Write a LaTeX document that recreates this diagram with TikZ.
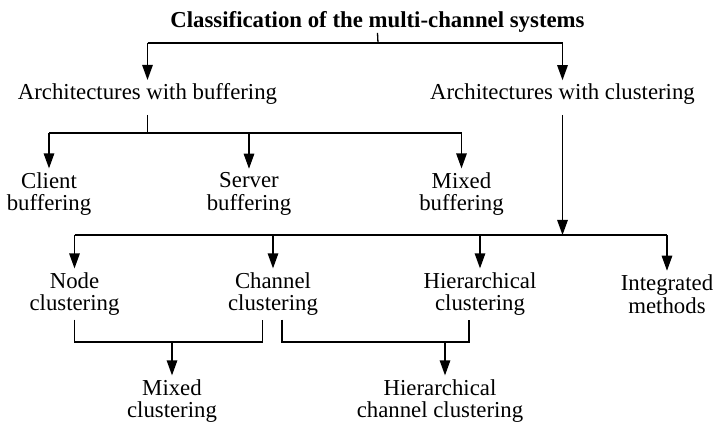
\documentclass[tikz,border=0pt]{standalone}
\usepackage{fontspec}
\setmainfont{Liberation Serif}
\usetikzlibrary{arrows.meta}
\begin{document}
\begin{tikzpicture}[x=1pt,y=-1pt,
  lbl/.style={inner sep=0pt, outer sep=4pt, align=center, font=\fontsize{22.8}{22.5}\selectfont},
  ln/.style={line width=1.3pt},
  arr/.style={ln, -{Triangle[length=15pt,width=10.5pt]}}]
\useasboundingbox (0,0) rectangle (713,425);
% nodes
\node[lbl, font=\fontsize{22.8}{22.5}\selectfont\bfseries, anchor=base] (title) at (377.5,28) {Classification of the multi-channel systems};
\node[lbl, anchor=base] (buf) at (147.5,100) {Architectures with buffering};
\node[lbl, anchor=base] (clu) at (562.5,100) {Architectures with clustering};
\node[lbl] (client) at (49,194) {Client\\buffering};
\node[lbl] (server) at (249,194) {Server\\buffering};
\node[lbl] (mixedbuf) at (461.5,194) {Mixed\\buffering};
\node[lbl] (nodec) at (74.5,294) {Node\\clustering};
\node[lbl] (channel) at (273,294) {Channel\\clustering};
\node[lbl] (hier) at (480,294) {Hierarchical\\clustering};
\node[lbl] (integ) at (667,294) {Integrated\\methods};
\node[lbl] (mixedclu) at (172,401) {Mixed\\clustering};
\node[lbl] (hcc) at (440,401) {Hierarchical\\channel clustering};
% junction levels
\coordinate (j1) at (378,43);
\coordinate (j2) at (147.5,133);
\coordinate (j3) at (562.5,235);
\coordinate (b1) at (172,342);
\coordinate (b2) at (445,342);
\coordinate (c1r) at ([xshift=-10.5pt]channel.south);
\coordinate (c2l) at ([xshift=9pt]channel.south);
\coordinate (h2r) at ([xshift=-11pt]hier.south);
% title to level 1
\draw[ln] ([yshift=4pt]title.south) -- (j1);
\draw[ln] (buf.north |- j1) -- (clu.north |- j1);
\draw[arr] (buf.north |- j1) -- (buf.north);
\draw[arr] (clu.north |- j1) -- (clu.north);
% buffering branch
\draw[ln] ([yshift=-6pt]buf.south) -- (buf.south |- j2);
\draw[ln] (client.north |- j2) -- (mixedbuf.north |- j2);
\draw[arr] (client.north |- j2) -- (client.north);
\draw[arr] (server.north |- j2) -- (server.north);
\draw[arr] (mixedbuf.north |- j2) -- (mixedbuf.north);
% clustering branch
\draw[arr] ([yshift=-6pt]clu.south) -- (clu.south |- j3);
\draw[ln] (nodec.north |- j3) -- (integ.north |- j3);
\draw[arr] (nodec.north |- j3) -- (nodec.north);
\draw[arr] (channel.north |- j3) -- (channel.north);
\draw[arr] (hier.north |- j3) -- (hier.north);
\draw[arr] (integ.north |- j3) -- (integ.north);
% combinations
\draw[ln] (nodec.south) -- (nodec.south |- b1) -- (c1r |- b1) -- (c1r);
\draw[arr] (b1) -- (b1 |- mixedclu.north);
\draw[ln] (c2l) -- (c2l |- b2) -- (h2r |- b2) -- (h2r);
\draw[arr] (b2) -- (b2 |- hcc.north);
\end{tikzpicture}
\end{document}
